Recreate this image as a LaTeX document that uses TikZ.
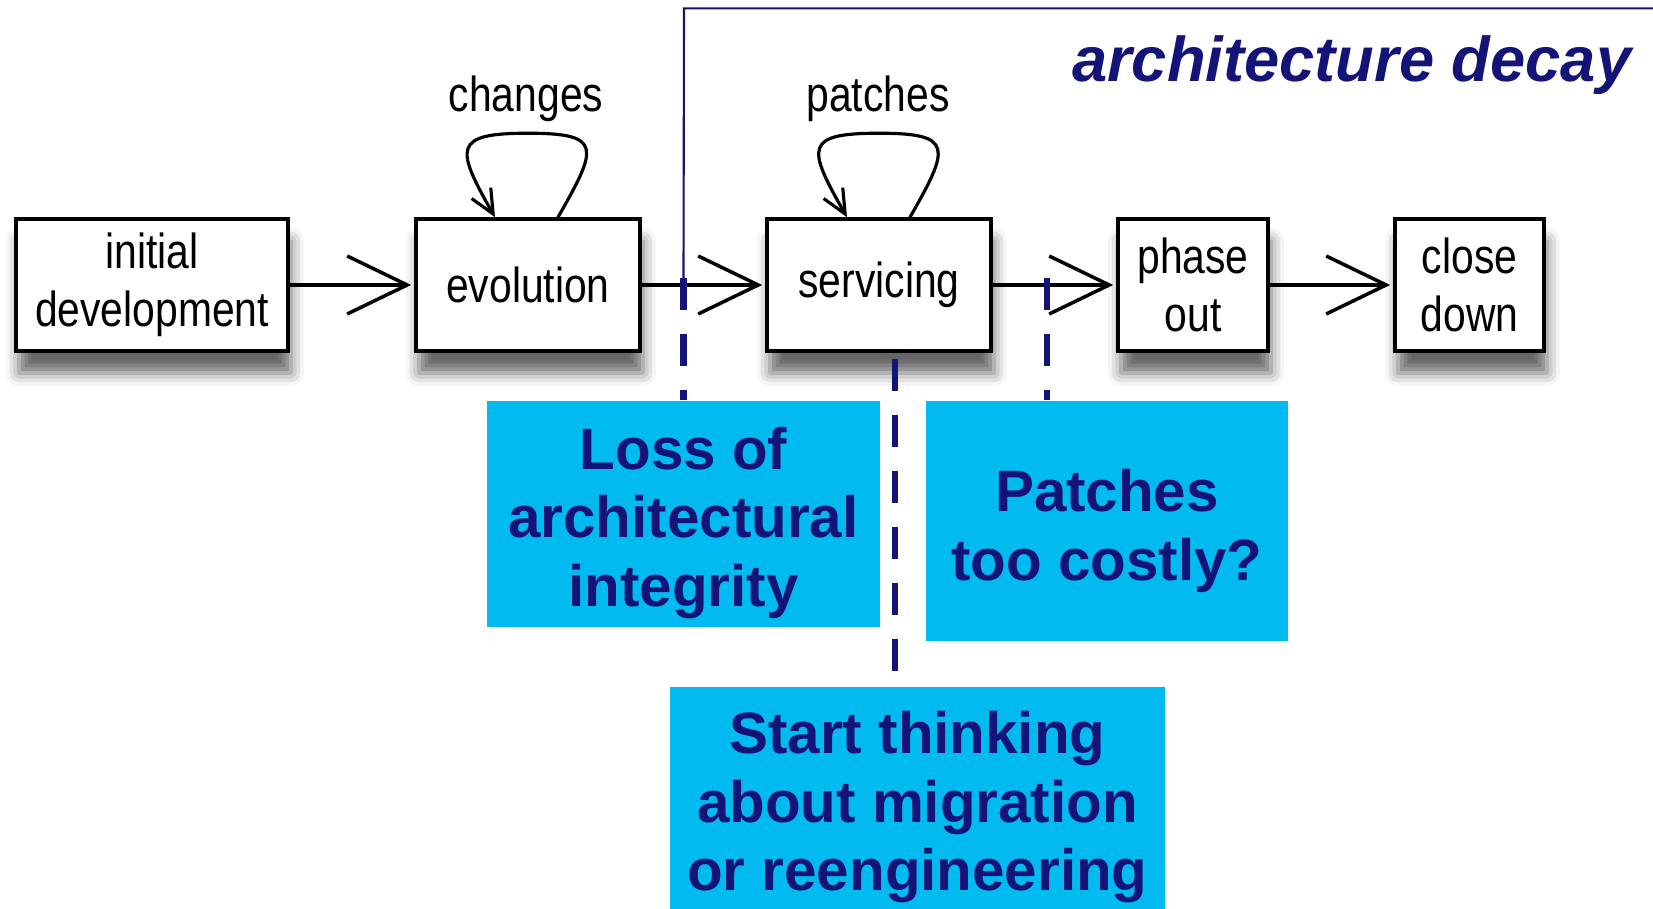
\documentclass[tikz,border=0pt]{standalone}
\usepackage{fontspec}
\setmainfont{Liberation Sans}
\newfontfamily\stagefont[FakeStretch=0.83]{Liberation Sans}
\usetikzlibrary{arrows.meta, shadows.blur}

\definecolor{decaynavy}{RGB}{20,20,120}
\definecolor{notecyan}{RGB}{0,186,240}

\tikzset{
  stage/.style={draw, line width=1pt, fill=white, minimum height=1.32cm, inner sep=0pt, align=center,
    font=\stagefont\fontsize{14}{16.5}\selectfont,
    blur shadow={shadow xshift=0.3mm, shadow yshift=-2.2mm, shadow blur radius=1.3mm, shadow opacity=60}},
  looplabel/.style={font=\stagefont\fontsize{14}{16.5}\selectfont, inner sep=0pt},
  flow/.style={-{Straight Barb[length=6mm,width=5.8mm]}, line width=1pt, shorten >=0.3mm},
  selfloop/.style={-{Straight Barb[length=2.4mm,width=2.2mm]}, line width=0.9pt},
  note/.style={fill=notecyan, text=decaynavy, inner sep=0pt, align=center,
    text height=#1, text depth=0pt,
    font=\bfseries\fontsize{16.6}{19.5}\selectfont},
  marker/.style={decaynavy, line width=1.8pt, dash pattern=on 3.2mm off 2.4mm},
}

\begin{document}
\begin{tikzpicture}
    \useasboundingbox (0,0) rectangle (16.53,9.09);

    % Lifecycle stages
    \node[stage, minimum width=2.72cm] (init) at (1.52,6.24) {initial\\development};
    \node[stage, minimum width=2.24cm] (evol) at (5.28,6.24) {evolution};
    \node[stage, minimum width=2.24cm] (serv) at (8.79,6.24) {servicing};
    \node[stage, minimum width=1.50cm] (phase) at (11.93,6.24) {phase\\out};
    \node[stage, minimum width=1.49cm] (close) at (14.695,6.24) {close\\down};

    \draw[flow] (init) -- (evol);
    \draw[flow] (evol) -- (serv);
    \draw[flow] (serv) -- (phase);
    \draw[flow] (phase) -- (close);

    % Self loops over evolution and servicing
    \draw[selfloop] ([xshift=3mm]evol.north) .. controls +(0.4,0.7) and +(0.75,0) .. ([yshift=8.4mm]evol.north)
        .. controls +(-0.75,0) and +(-0.4,0.7) .. ([xshift=-3.3mm]evol.north);
    \draw[selfloop] ([xshift=3.1mm]serv.north) .. controls +(0.4,0.7) and +(0.75,0) .. ([yshift=8.4mm]serv.north)
        .. controls +(-0.75,0) and +(-0.4,0.7) .. ([xshift=-3.2mm]serv.north);
    \node[looplabel] (chg) at (5.26,8.10) {changes};
    \node[looplabel] (pat) at (8.78,8.10) {patches};

    % Decay region
    \node[anchor=base east, text=decaynavy, inner sep=0pt, font=\bfseries\itshape\fontsize{18}{21}\selectfont]
        (decay) at (16.32,8.27) {architecture decay};
    \coordinate (corner) at (6.84,9.006);
    \coordinate (edge) at (16.53,9.006);

    % Notes
    \node[note=52.5pt, minimum width=3.93cm, minimum height=2.26cm] (loss) at (6.835,3.95) {Loss of\\architectural\\integrity};
    \node[note=33.6pt, minimum width=3.62cm, minimum height=2.40cm] (cost) at (11.07,3.88) {Patches\\too costly?};
    \node[note=52.8pt, minimum width=4.95cm, minimum height=2.22cm] (migr) at (9.175,1.11) {Start thinking\\about migration\\or reengineering};

    \draw[decaynavy, line width=0.6pt] (edge) -- (corner) -- ([yshift=12.2mm]loss.north);
    \draw[marker] ([yshift=12.2mm]loss.north) -- (loss.north);
    \draw[marker] ([xshift=-6mm,yshift=12.2mm]cost.north) -- ([xshift=-6mm]cost.north);
    \draw[marker] ([xshift=1.6mm,yshift=-0.6mm]serv.south) -- ([xshift=1.6mm]serv.south |- migr.north);
\end{tikzpicture}
\end{document}
